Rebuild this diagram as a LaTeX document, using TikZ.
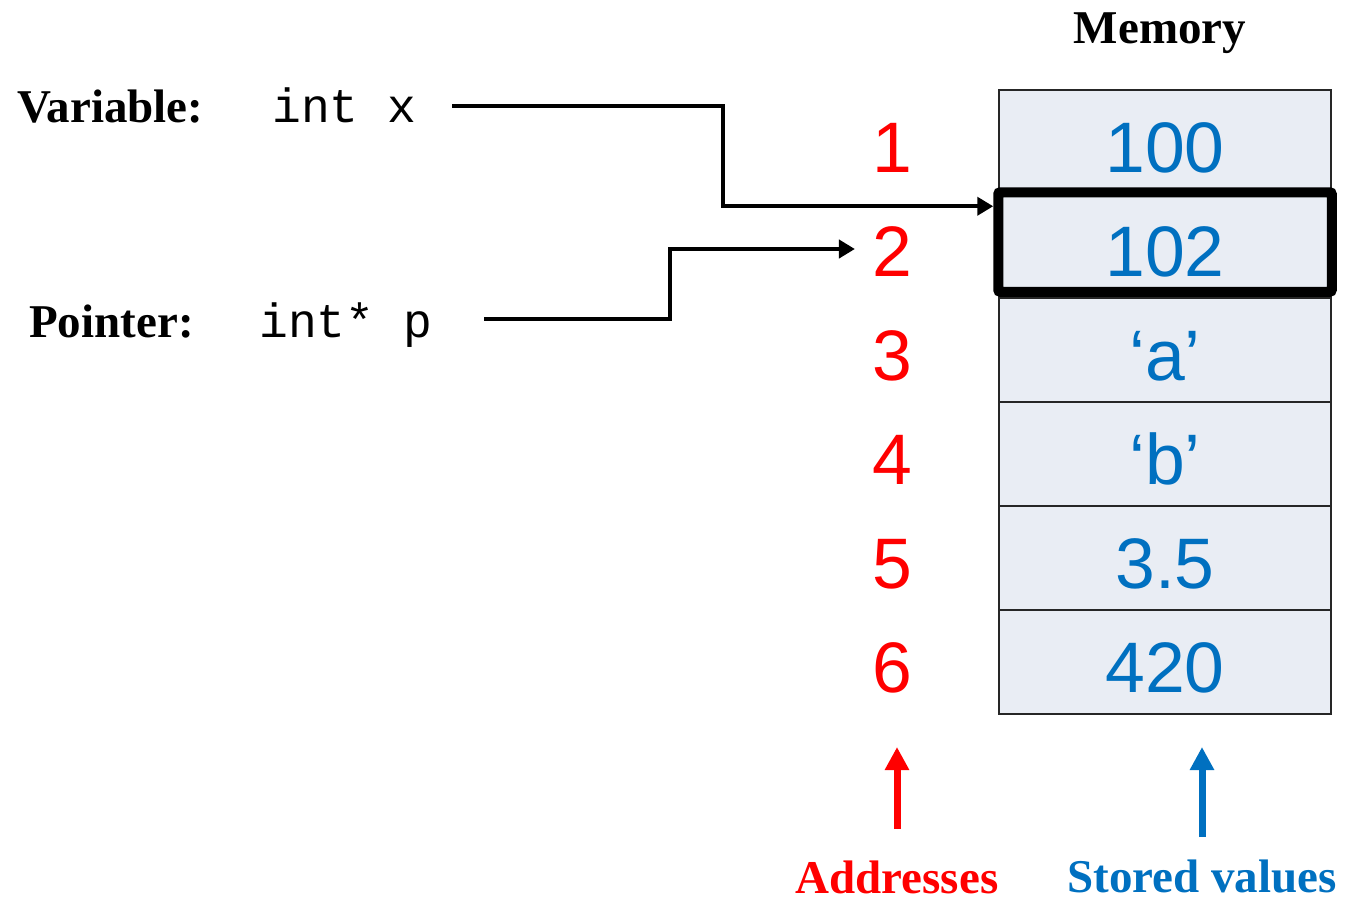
\documentclass[tikz,border=0pt]{standalone}
\usepackage{fontspec}
\setmainfont{Liberation Serif}
\setsansfont{Liberation Sans}
\setmonofont{Liberation Mono}
\usetikzlibrary{arrows.meta,calc}
\definecolor{memfill}{HTML}{E9EDF4}
\definecolor{valblue}{HTML}{0070C0}
\definecolor{addrred}{HTML}{FF0000}
\begin{document}
\begin{tikzpicture}[x=1pt,y=-1pt,
  lbl/.style={font=\fontsize{47}{50}\selectfont\bfseries, inner sep=0pt, anchor=base},
  codetxt/.style={font=\fontsize{48}{50}\selectfont\ttfamily, inner sep=0pt, anchor=base west, text depth=0pt},
  cell/.style={draw=black!85, line width=1.5pt, fill=memfill, minimum width=332pt, minimum height=104pt,
    inner sep=0pt, font=\fontsize{71.5}{75}\selectfont\sffamily, text=valblue, text height=61pt, text depth=0pt},
  addr/.style={font=\fontsize{71.5}{75}\selectfont\sffamily, text=addrred, inner sep=0pt, text height=61pt, text depth=0pt},
  ptr/.style={line width=4pt, -{Triangle[length=16pt,width=18pt]}},
  uparrow/.style={line width=7pt, -{Triangle[length=23pt,width=23pt]}}
]
\useasboundingbox (0,0) rectangle (1345,903);

% title
\node[lbl] (mem) at (1160,43) {Memory};

% memory cells and addresses
\foreach \i/\v in {1/100,2/102,3/‘a’,4/‘b’,5/3.5,6/420} {
  \node[cell] (c\i) at (1165,{142+104*(\i-1)}) {\v};
  \node[addr] (a\i) at (892,{142+104*(\i-1)}) {\i};
}
\draw[line width=10pt, rounded corners=2pt] ([yshift=1pt]c2.north west) rectangle ([yshift=7pt]c2.south east);

% left labels
\node[lbl, anchor=base west] (varlbl) at (17,122) {Variable:};
\node[codetxt, text height=32pt] (intx) at (272,122) {int x};
\node[lbl, anchor=base west] (ptrlbl) at (29,337) {Pointer:};
\node[codetxt, text height=36pt] (intp) at (259,337) {int* p};

% connectors
\coordinate (xs) at ([xshift=36pt]intx.east);
\coordinate (xe) at ([xshift=-5pt,yshift=-13pt]c2.north west);
\draw[ptr] (xs) -| ($(xs)!0.5!(xe)$) |- (xe);

\coordinate (ps) at ([xshift=52pt]intp.east);
\coordinate (pe) at ([xshift=-17pt,yshift=-3pt]a2.west);
\draw[ptr] (ps) -| ($(ps)!0.5!(pe)$) |- (pe);

% bottom labels and arrows
\node[lbl, text=addrred] (addrlbl) at (897,893) {Addresses};
\node[lbl, text=valblue] (vallbl) at (1202,892) {Stored values};
\draw[uparrow, draw=addrred, fill=addrred] (addrlbl.north |- 0,829) -- (addrlbl.north |- 0,747);
\draw[uparrow, draw=valblue, fill=valblue] (vallbl.north |- 0,837) -- (vallbl.north |- 0,747);
\end{tikzpicture}
\end{document}
